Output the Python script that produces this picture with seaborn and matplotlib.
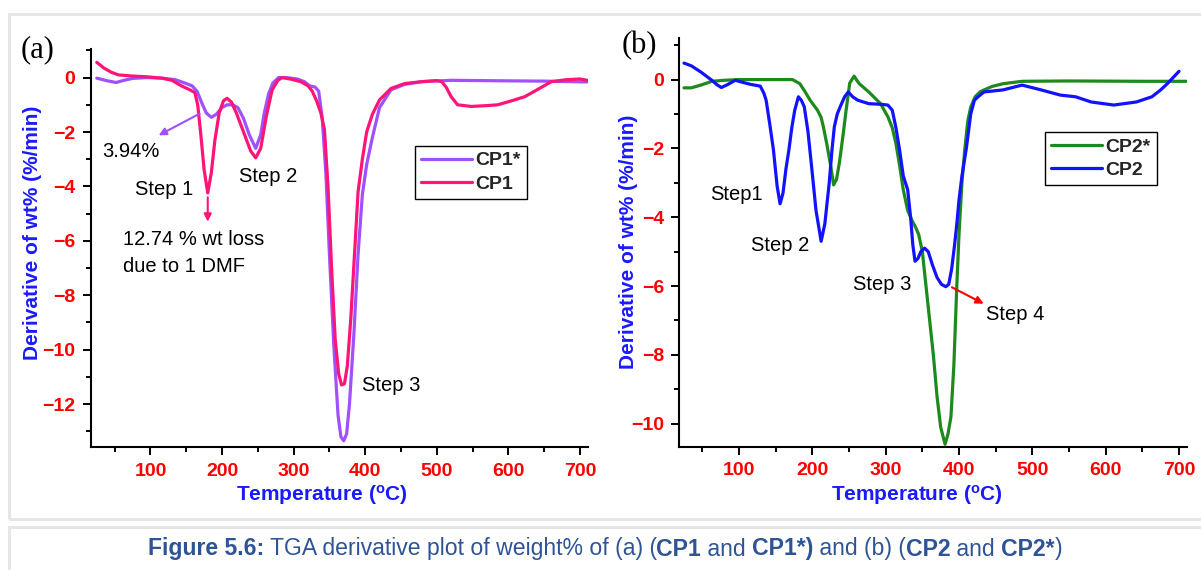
import numpy as np
import pandas as pd
import matplotlib
matplotlib.use("Agg")
import matplotlib.pyplot as plt
from matplotlib.patches import Rectangle
from matplotlib.lines import Line2D
import seaborn as sns

# ---------------- data ----------------
cp1s_x = [25, 40, 52, 63, 75, 95, 116, 135, 148, 158, 165, 172, 178, 185, 192, 200, 207, 215, 222, 230, 238, 247, 254, 259, 265, 271, 279, 290, 305, 315, 322, 330, 335, 340, 345, 350, 356, 362, 366, 370, 374, 378, 384, 390, 396, 402, 410, 420, 436, 455, 479, 520, 600, 650, 710]
cp1s_y = [-0.02, -0.12, -0.18, -0.1, -0.03, 0.0, -0.02, -0.08, -0.2, -0.3, -0.5, -0.95, -1.3, -1.46, -1.35, -1.1, -1.0, -1.0, -1.1, -1.5, -2.1, -2.6, -2.1, -1.3, -0.6, -0.2, 0.0, 0.0, -0.05, -0.15, -0.3, -0.35, -0.5, -1.5, -3.5, -6.5, -9.8, -12.4, -13.2, -13.35, -13.1, -12.0, -9.5, -6.5, -4.3, -3.2, -2.2, -1.1, -0.45, -0.25, -0.15, -0.1, -0.12, -0.13, -0.16]

cp1_x = [25, 35, 45, 55, 73, 95, 116, 130, 143, 155, 162, 166, 170, 175, 180, 185, 190, 196, 202, 207, 213, 220, 230, 240, 247, 254, 262, 270, 278, 284, 295, 310, 320, 326, 332, 338, 343, 348, 353, 358, 363, 367, 371, 375, 380, 385, 390, 396, 402, 410, 420, 436, 455, 479, 500, 507, 513, 520, 529, 548, 570, 585, 605, 623, 640, 660, 680, 700, 710]
cp1_y = [0.56, 0.35, 0.2, 0.1, 0.06, 0.03, -0.02, -0.1, -0.3, -0.45, -0.55, -1.0, -2.0, -3.4, -4.24, -3.5, -2.3, -1.3, -0.85, -0.76, -0.9, -1.3, -2.0, -2.7, -2.95, -2.6, -1.4, -0.45, -0.1, 0.0, -0.05, -0.15, -0.3, -0.5, -0.85, -1.3, -1.9, -4.0, -7.0, -9.6, -10.9, -11.3, -11.25, -10.6, -8.8, -6.5, -4.2, -3.0, -2.0, -1.35, -0.82, -0.4, -0.22, -0.15, -0.11, -0.15, -0.35, -0.7, -1.0, -1.06, -1.03, -1.0, -0.85, -0.7, -0.45, -0.15, -0.08, -0.05, -0.1]

cp2s_x = [25, 35, 48, 63, 80, 100, 130, 160, 173, 183, 190, 197, 207, 212, 215, 220, 225, 229, 233, 237, 242, 246, 251, 257, 260, 264, 277, 293, 303, 309, 314, 319, 324, 330, 336, 341, 345, 350, 355, 360, 365, 370, 375, 381, 385, 389, 393, 397, 400, 404, 408, 412, 416, 422, 429, 445, 460, 486, 550, 650, 710]
cp2s_y = [-0.24, -0.24, -0.16, -0.05, -0.02, 0.0, 0.0, 0.0, 0.0, -0.12, -0.35, -0.6, -0.89, -1.1, -1.37, -1.9, -2.5, -3.06, -2.9, -2.4, -1.6, -0.9, -0.1, 0.1, 0.0, -0.12, -0.36, -0.7, -1.08, -1.4, -1.86, -2.5, -3.2, -3.8, -4.1, -4.3, -4.5, -5.0, -6.0, -7.0, -8.0, -9.2, -10.1, -10.6, -10.3, -9.8, -8.3, -6.0, -4.5, -3.0, -2.0, -1.2, -0.8, -0.5, -0.35, -0.2, -0.12, -0.05, -0.04, -0.05, -0.05]

cp2_x = [25, 35, 48, 63, 70, 76, 84, 95, 105, 116, 129, 134, 137, 142, 147, 152, 156, 160, 164, 168, 172, 176, 181, 185, 189, 194, 199, 205, 212, 217, 223, 227, 230, 234, 238, 244, 249, 255, 262, 277, 295, 303, 309, 314, 319, 324, 330, 334, 337, 340, 344, 348, 353, 358, 364, 370, 376, 382, 386, 390, 394, 397, 400, 404, 410, 416, 421, 426, 434, 460, 486, 512, 538, 559, 580, 611, 642, 663, 675, 684, 700]
cp2_y = [0.48, 0.4, 0.22, -0.02, -0.15, -0.23, -0.15, -0.02, -0.08, -0.14, -0.19, -0.4, -0.6, -1.3, -2.05, -3.1, -3.61, -3.3, -2.6, -2.05, -1.4, -0.89, -0.5, -0.6, -0.79, -1.5, -2.53, -3.8, -4.7, -4.2, -3.01, -2.0, -1.37, -1.0, -0.79, -0.5, -0.36, -0.5, -0.6, -0.7, -0.72, -0.74, -0.89, -1.4, -2.05, -2.8, -3.2, -4.0, -4.8, -5.28, -5.2, -5.0, -4.9, -5.0, -5.4, -5.75, -5.95, -6.02, -5.95, -5.5, -4.8, -4.2, -3.5, -2.8, -2.0, -1.0, -0.6, -0.5, -0.36, -0.3, -0.16, -0.3, -0.45, -0.5, -0.65, -0.74, -0.65, -0.5, -0.3, -0.12, 0.24]

x_ticks = [100, 200, 300, 400, 500, 600, 700]
ya_ticks = [0, -2, -4, -6, -8, -10, -12]
yb_ticks = [0, -2, -4, -6, -8, -10]

PURPLE = "#A050FF"
PINK = "#FF1478"
GREEN = "#1E8A1E"
BLUE = "#1212FF"
TICKRED = "#FF0000"
LABBLUE = "#1A1AFF"

sns.set_theme(style="white")
plt.rcParams["font.family"] = ["Liberation Sans", "DejaVu Sans"]
plt.rcParams["mathtext.default"] = "regular"

W, H = 1201, 570
fig = plt.figure(figsize=(W / 100, H / 100), dpi=100)
fig.patch.set_facecolor("white")

# light gray panels
def px_rect(x0, y0, x1, y1):
    return Rectangle((x0 / W, 1 - y1 / H), (x1 - x0) / W, (y1 - y0) / H,
                     transform=fig.transFigure, fill=False, edgecolor="#E6E6E6",
                     linewidth=2.2, zorder=0)
fig.patches.append(px_rect(9, 14, 1215, 519))
fig.patches.append(px_rect(9, 527, 1215, 590))

def px_axes(x0, y0, x1, y1):
    return fig.add_axes([x0 / W, 1 - y1 / H, (x1 - x0) / W, (y1 - y0) / H])

axa = px_axes(90.7, 49.3, 587.7, 447.3)
axb = px_axes(679.3, 38.3, 1187.3, 446.7)

def style_axis(ax, xlim, ylim, yticks, xlab_xy, ylab_xy):
    ax.set_facecolor("none")
    ax.set_xlim(*xlim)
    for s in ["top", "right"]:
        ax.spines[s].set_visible(False)
    for s in ["left", "bottom"]:
        ax.spines[s].set_color("black")
        ax.spines[s].set_linewidth(1.5)
    ax.set_xticks(x_ticks)
    ax.set_xticks(np.arange(50, 701, 100), minor=True)
    ax.set_yticks(yticks)
    ax.set_yticks(np.arange(1, min(yticks) - 2, -2), minor=True)
    ax.set_ylim(*ylim)
    ax.tick_params(axis="both", which="major", direction="out", length=6, width=1.4,
                   color="black", labelcolor=TICKRED, labelsize=14, pad=5,
                   bottom=True, left=True)
    ax.tick_params(axis="both", which="minor", direction="out", length=3.5, width=1.4,
                   color="black", bottom=True, left=True)
    for lab in ax.get_xticklabels() + ax.get_yticklabels():
        lab.set_fontweight("bold")
    ax.set_xlabel("Temperature ($^o$C)", color=LABBLUE, fontsize=15, fontweight="bold")
    ax.set_ylabel("Derivative of wt% (%/min)", color=LABBLUE, fontsize=15, fontweight="bold")
    ax.xaxis.set_label_coords(*xlab_xy)
    ax.yaxis.set_label_coords(*ylab_xy)
    ax.grid(False)

tkw = dict(fontsize=14.5, color="black")
legkw = dict(loc="upper left", frameon=True, fancybox=False, edgecolor="black", framealpha=1,
             borderpad=0.32, handlelength=2.6, handletextpad=0.2, labelspacing=0.28,
             borderaxespad=0, prop=dict(weight="bold", size=14))

# ---- panel a ----
sns.lineplot(x=cp1s_x, y=cp1s_y, ax=axa, color=PURPLE, linewidth=2.3, sort=False)
sns.lineplot(x=cp1_x, y=cp1_y, ax=axa, color=PINK, linewidth=2.3, sort=False)
style_axis(axa, (16.5, 710.8), (-13.59, 1.04), ya_ticks, (0.465, -0.09), (-0.098, 0.538))

axa.text(73, -2.72, "3.94%", ha="center", va="center", **tkw)
axa.text(119, -4.12, "Step 1", ha="center", va="center", **tkw)
axa.text(264, -3.63, "Step 2", ha="center", va="center", **tkw)
axa.text(61.6, -5.96, "12.74 % wt loss", ha="left", va="center", **tkw)
axa.text(61.6, -6.94, "due to 1 DMF", ha="left", va="center", **tkw)
axa.text(396, -11.31, "Step 3", ha="left", va="center", **tkw)
axa.annotate("", xy=(108, -2.17), xytext=(172, -1.28),
             arrowprops=dict(arrowstyle="-|>", color=PURPLE, lw=1.5, mutation_scale=11))
axa.annotate("", xy=(180, -5.4), xytext=(180, -4.3),
             arrowprops=dict(arrowstyle="-|>", color=PINK, lw=1.5, mutation_scale=11))
axa.text(-0.142, 0.998, "(a)", transform=axa.transAxes, ha="left", va="center",
         fontsize=22, family="Liberation Serif", color="black")

hs = [Line2D([], [], color=PURPLE, lw=2.3), Line2D([], [], color=PINK, lw=2.3)]
lega = axa.legend(hs, ["CP1*", "CP1"], bbox_to_anchor=(0.652, 0.758), **legkw)
lega.get_frame().set_linewidth(1.0)

# ---- panel b ----
sns.lineplot(x=cp2s_x, y=cp2s_y, ax=axb, color=GREEN, linewidth=2.3, sort=False)
sns.lineplot(x=cp2_x, y=cp2_y, ax=axb, color=BLUE, linewidth=2.3, sort=False)
style_axis(axb, (18.6, 711.3), (-10.67, 1.2), yb_ticks, (0.468, -0.089), (-0.081, 0.502))

axb.text(96, -3.35, "Step1", ha="center", va="center", **tkw)
axb.text(156, -4.81, "Step 2", ha="center", va="center", **tkw)
axb.text(295, -5.96, "Step 3", ha="center", va="center", **tkw)
axb.text(476, -6.83, "Step 4", ha="center", va="center", **tkw)
axb.annotate("", xy=(437, -6.55), xytext=(387, -6.0),
             arrowprops=dict(arrowstyle="-|>", color="#FF0000", lw=1.5, mutation_scale=11))
axb.text(-0.113, 0.983, "(b)", transform=axb.transAxes, ha="left", va="center",
         fontsize=22, family="Liberation Serif", color="black")

hs = [Line2D([], [], color=GREEN, lw=2.3), Line2D([], [], color=BLUE, lw=2.3)]
legb = axb.legend(hs, ["CP2*", "CP2"], bbox_to_anchor=(0.72, 0.771), **legkw)
legb.get_frame().set_linewidth(1.0)

# ---- caption with mixed weights ----
segments = [("Figure 5.6:", "bold"), (" TGA derivative plot of weight% of (a) (", "normal"),
            ("CP1", "bold"), (" and ", "normal"), ("CP1*)", "bold"), (" and (b) (", "normal"),
            ("CP2", "bold"), (" and ", "normal"), ("CP2*", "bold"), (")", "normal")]
CAPCOL = "#2F5496"
capfam = ["Liberation Sans", "DejaVu Sans"]
renderer = fig.canvas.get_renderer()
cap_size = 15.5
texts = []
for s, w in segments:
    t = fig.text(0, 0, s, fontsize=cap_size, fontweight=w, color=CAPCOL, family=capfam,
                 ha="left", va="center")
    texts.append(t)
widths = [t.get_window_extent(renderer).width for t in texts]
total = sum(widths)
target = 915.0
scale = target / total
cur = 605 - target / 2
for t, wd in zip(texts, widths):
    t.set_fontsize(cap_size * scale)
    t.set_position((cur / W, 1 - 549 / H))
    cur += wd * scale

fig.savefig("out.png", dpi=100, facecolor="white")
